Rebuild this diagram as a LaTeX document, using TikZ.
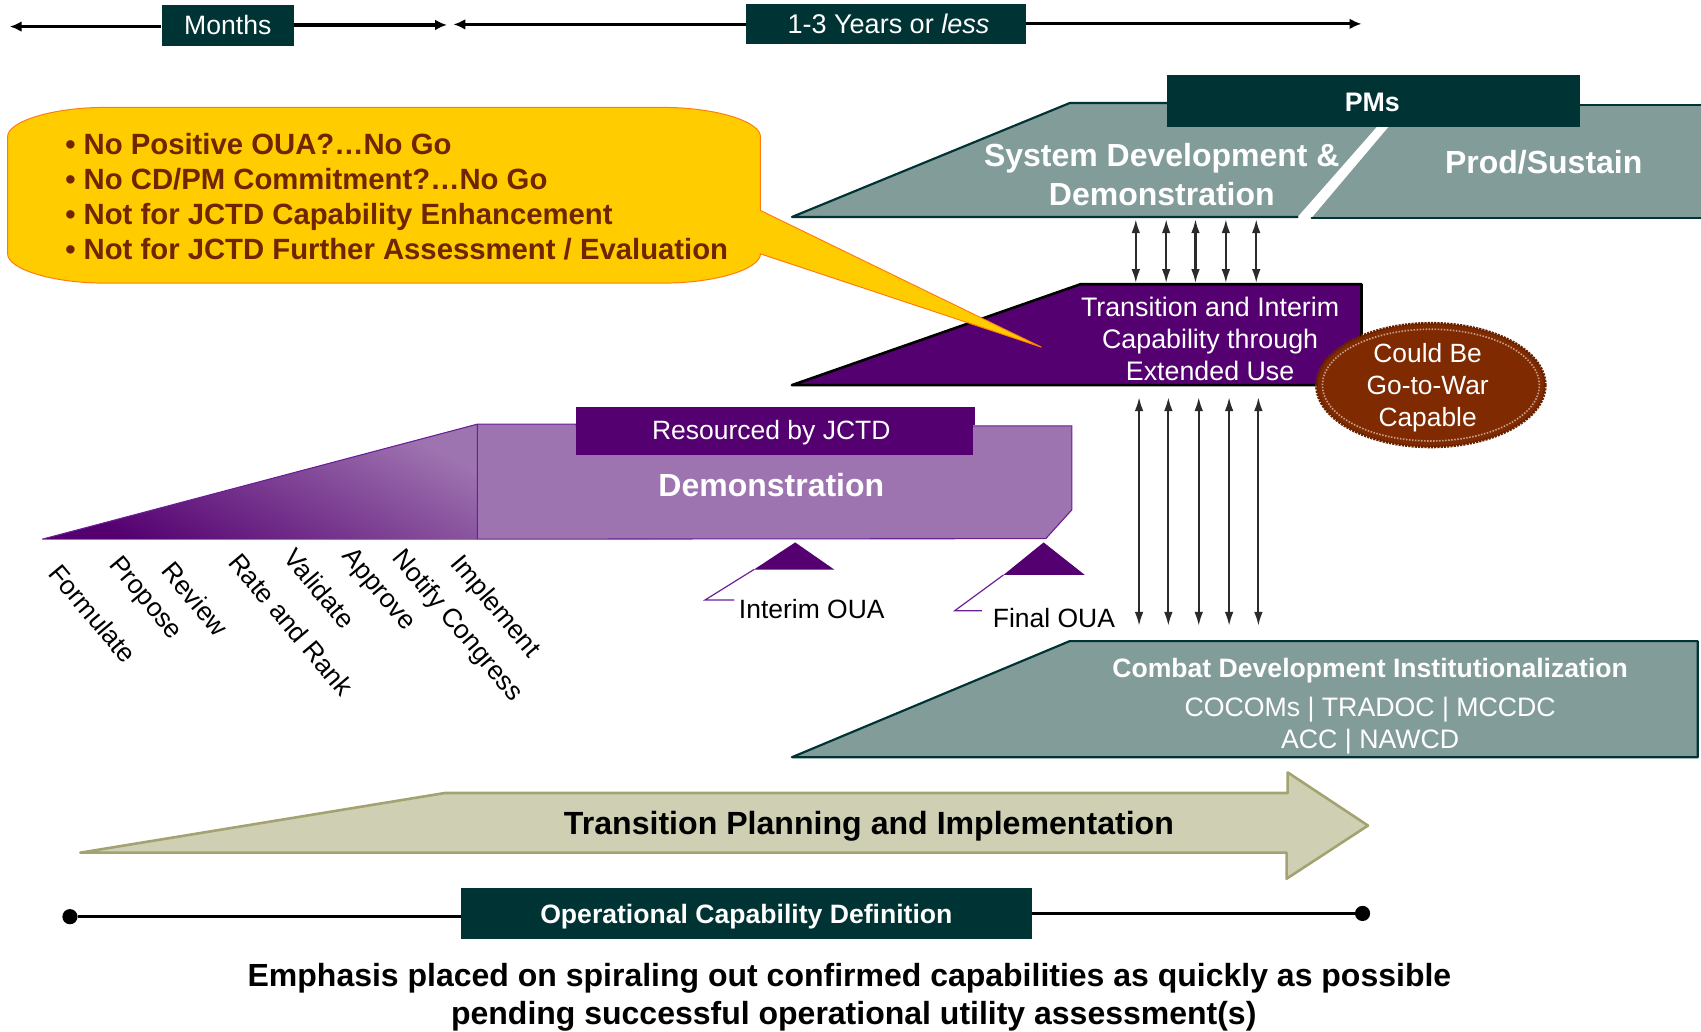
\documentclass[tikz,border=0pt]{standalone}
\usepackage{fontspec}
\setmainfont{Liberation Sans}
\usetikzlibrary{arrows.meta,shapes.geometric}
\definecolor{dkteal}{HTML}{003333}
\definecolor{teal2}{HTML}{829C9A}
\definecolor{purp}{HTML}{540070}
\definecolor{lpurp}{HTML}{9E74B0}
\definecolor{mpurp}{HTML}{6A1E96}
\definecolor{gold}{HTML}{FFCC00}
\definecolor{orng}{HTML}{FF7A10}
\definecolor{brn}{HTML}{7F2A00}
\definecolor{bubtxt}{HTML}{6E2500}
\definecolor{khaki}{HTML}{CFCFB3}
\definecolor{khakid}{HTML}{A3A372}
\definecolor{arrgrey}{HTML}{2B2B2B}
\tikzset{
  fs/.style={font=\fontsize{#1}{#1}\selectfont,text height=.72*#1 pt,text depth=.2*#1 pt,inner sep=0pt,yshift=-2bp},
  fb/.style={fs=#1,font=\fontsize{#1}{#1}\selectfont\bfseries},
  wt/.style={text=white},
  darkbox/.style={fill=dkteal,text=white,inner sep=0pt},
  tealfill/.style={fill=teal2},
  tealline/.style={draw=dkteal,line width=2pt,line join=round,line cap=round},
  timeline/.style={draw=black,line width=3pt},
  dbl/.style={draw=arrgrey,line width=2pt,{Latex[length=13pt,width=8pt]}-{Latex[length=13pt,width=8pt]}},
  steplabel/.style={fs=24.4,rotate=-50,anchor=west},
  oualine/.style={draw=mpurp,line width=1.1pt},
  bubbleline/.style={fb=27.1,text=bubtxt,anchor=west},
}
\begin{document}
\begin{tikzpicture}[x=1bp,y=-1bp]
\useasboundingbox (0,0) rectangle (1568,950.4);
% top timelines
\node[darkbox,minimum width=122bp,minimum height=37bp] (months) at (210,23.5) {};
\node[fs=24.6,wt] at (210,23.5) {Months};
\node[darkbox,minimum width=258bp,minimum height=37bp] (years) at (817,22.5) {};
\node[fs=25,wt] at (819,22.5) {1-3 Years or \textit{less}};
\coordinate (mL) at (9,24.5);
\coordinate (mR) at (412,23);
\coordinate (yL) at (418,22.5);
\coordinate (yR) at (1255,22);
\draw[timeline,{Latex[length=11pt,width=10pt]}-] (mL) -- (months.west |- mL);
\draw[timeline,-{Latex[length=11pt,width=10pt]}] (months.east |- mR) -- (mR);
\draw[timeline,{Latex[length=11pt,width=10pt]}-] (yL) -- (years.west |- yL);
\draw[timeline,-{Latex[length=11pt,width=10pt]}] (years.east |- yR) -- (yR);

% upper teal shapes
\fill[tealfill] (730,200) -- (986,95) -- (1280,95) -- (1269,117) -- (1196,200) -- cycle;
\draw[tealline] (1196,200) -- (730,200) -- (986,95) -- (1076,95);
\fill[tealfill] (1209,201) -- (1280,117) -- (1280,97) -- (1568,97) -- (1568,201) -- cycle;
\draw[tealline] (1456,96.5) -- (1568,96.5);
\draw[tealline] (1209,201) -- (1568,201);
\node[darkbox,minimum width=380bp,minimum height=48bp] (pms) at (1266,93) {};
\node[fb=24.8,wt] at (1265,94) {PMs};
\node[fb=29.6,wt] (sdd1) at (1071,143.5) {System Development \&};
\node[fb=29.6,wt] (sdd2) at (1071,179.5) {Demonstration};
\node[fb=29.6,wt] (prod) at (1423,150) {Prod/Sustain};

% Transition shape
\draw[fill=purp,draw=black,line width=2.4pt,line join=round] (730,355) -- (996,262) -- (1255,262) -- (1255,355) -- cycle;
\node[fs=24.8,wt] (tr1) at (1115.5,283) {Transition and Interim};
\node[fs=24.8,wt] (tr2) at (1115.5,313) {Capability through};
\node[fs=24.8,wt] (tr3) at (1115.5,342) {Extended Use};

% bubble
\draw[fill=gold,draw=orng,line width=.9pt]
  (97,99) -- (611,99)
  .. controls (660,99) and (701,112) .. (701,126)
  -- (701,194) -- (960,320) -- (701,234)
  -- (701,234) .. controls (701,248) and (660,261) .. (611,261)
  -- (97,261) .. controls (48,261) and (7,248) .. (7,234)
  -- (7,126) .. controls (7,112) and (48,99) .. (97,99) -- cycle;
\node[bubbleline] (b1) at (60,133) {• No Positive OUA?…No Go};
\node[bubbleline] (b2) at (60,165.5) {• No CD/PM Commitment?…No Go};
\node[bubbleline] (b3) at (60,197.5) {• Not for JCTD Capability Enhancement};
\node[bubbleline] (b4) at (60,230.5) {• Not for JCTD Further Assessment / Evaluation};

% seal
\node[ellipse,fill=brn,draw=brn!80!black,line width=2.5pt,dash pattern=on 2pt off 1pt,minimum width=211bp,minimum height=114bp,inner sep=0pt] (seal) at (1319,355) {};
\node[ellipse,draw=brn!45!white,dash pattern=on 1.4pt off 1.4pt,line width=1.5pt,minimum width=200bp,minimum height=103bp,inner sep=0pt] at (1319,355) {};
\node[fs=24.4,wt] (s1) at (1316,326) {Could Be};
\node[fs=24.4,wt] (s2) at (1316,355.5) {Go-to-War};
\node[fs=24.4,wt] (s3) at (1316,385) {Capable};

% double arrows
\foreach \i/\x in {1/1047,2/1075,3/1102,4/1130,5/1158}{
  \coordinate (ua\i) at (\x,202);
  \coordinate (ub\i) at (\x,261);
  \draw[dbl] (ua\i) -- (ub\i);
}
\foreach \i/\x in {1/1050,2/1077,3/1105,4/1133,5/1160}{
  \coordinate (la\i) at (\x,366);
  \coordinate (lb\i) at (\x,577);
  \draw[dbl] (la\i) -- (lb\i);
}

% demonstration
\shade[top color=lpurp,bottom color=purp,shading angle=-28] (39,497) -- (440,391) -- (440,497) -- cycle;
\draw[draw=mpurp,line width=1pt] (39,497) -- (440,391);
\draw[draw=lpurp,line width=1pt] (39,497.5) -- (440,497.5);
\draw[fill=lpurp,draw=mpurp,line width=1pt] (440,391) -- (531,391) -- (531,392.5) -- (988,392.5) -- (988,470) -- (964,496.5) -- (440,497) -- cycle;
\node[fill=purp,minimum width=366bp,minimum height=44bp,inner sep=0pt] (res) at (714,397) {};
\fill[purp] (531,375) rectangle (899,392);
\node[fs=24.5,wt] at (711,396.5) {Resourced by JCTD};
\node[fb=29.6,wt] (demo) at (711,448) {Demonstration};

% OUA markers
\fill[purp] (733,500) -- (769,525) -- (695,525) -- cycle;
\fill[purp] (962,500) -- (1000,530) -- (925,530) -- cycle;
\draw[oualine] (695,525) -- (650,553) -- (677,553);
\draw[oualine] (925,530) -- (880,563) -- (905,563);
\node[fs=24.5,anchor=west] (io) at (681,562) {Interim OUA};
\node[fs=24.5,anchor=west] (fo) at (915,570.5) {Final OUA};

% process steps
\node[steplabel] (p1) at (48.5,523) {Formulate};
\node[steplabel] (p2) at (104.5,515) {Propose};
\node[steplabel] (p3) at (152.5,521) {Review};
\node[steplabel] (p4) at (214.5,513) {Rate and Rank};
\node[steplabel] (p5) at (265.5,509) {Validate};
\node[steplabel] (p6) at (319.5,507) {Approve};
\node[steplabel] (p7) at (365.5,509) {Notify Congress};
\node[steplabel] (p8) at (419.5,514) {Implement};

% Combat dev
\fill[tealfill] (730,698) -- (986,591) -- (1565,591) -- (1565,698) -- cycle;
\draw[tealline] (730,698) -- (986,591) -- (1565,591) -- (1565,698) -- cycle;
\node[fb=24.6,wt] (c1) at (1263,616) {Combat Development Institutionalization};
\node[fs=24.7,wt] (c2) at (1263,652) {COCOMs | TRADOC | MCCDC};
\node[fs=24.7,wt] (c3) at (1263,681.5) {ACC | NAWCD};

% transition arrow
\draw[fill=khaki,draw=khakid,line width=2.4pt,line join=round] (74,786) -- (410,731) -- (1187,731) -- (1187,712) -- (1261,761) -- (1186,810) -- (1186,786) -- cycle;
\node[fb=29.7] (tpi) at (801,759.5) {Transition Planning and Implementation};

% op cap
\node[darkbox,minimum width=526bp,minimum height=47bp] (ocd) at (688,842.5) {};
\node[fb=24.6,wt] at (688,843) {Operational Capability Definition};
\node[circle,fill=black,minimum size=14bp,inner sep=0pt] (dl) at (64.5,845) {};
\node[circle,fill=black,minimum size=14bp,inner sep=0pt] (dr) at (1256,842) {};
\draw[timeline] (dl) -- (ocd.west |- dl);
\draw[timeline] (ocd.east |- dr) -- (dr);

% bottom text
\node[fb=29.6] (e1) at (783,899.5) {Emphasis placed on spiraling out confirmed capabilities as quickly as possible};
\node[fb=29.6] (e2) at (787,934.5) {pending successful operational utility assessment(s)};
\end{tikzpicture}
\end{document}
